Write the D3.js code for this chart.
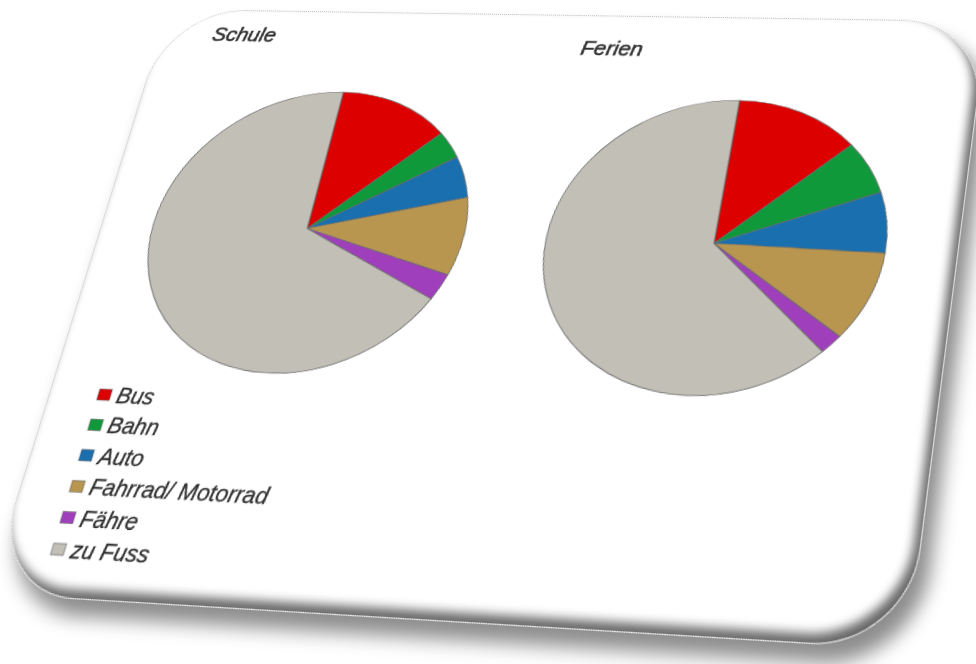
<!DOCTYPE html>
<html>
<head>
<meta charset="utf-8">
<script src="https://cdn.jsdelivr.net/npm/d3@7"></script>
<style>
  html, body { margin: 0; padding: 0; background: #fff; overflow: hidden; }
  #stage { position: relative; width: 976px; height: 664px; overflow: hidden; }
  #card {
    position: absolute; left: 0; top: 0;
    width: 800px; height: 560px;
    background: #fff;
    border-radius: 80px;
    border: 1px dotted #b8b8b8;
    box-sizing: border-box;
    transform-origin: 0 0;
    box-shadow: inset -5px -7px 8px rgba(0,0,0,0.6), 10px 14px 16px rgba(0,0,0,0.45);
  }
  #card svg { position: absolute; left: 0; top: 0; }
  text { font-family: "Liberation Sans", Arial, sans-serif; font-style: italic; fill: #2e2e2e; stroke: #3a3a3a; stroke-width: 0.3; }
  text.title { stroke-width: 0.6; }
</style>
</head>
<body>
<div id="stage"><div id="card"></div></div>
<script>
//data
var categories = ['Bus', 'Bahn', 'Auto', 'Fahrrad/ Motorrad', 'F\u00e4hre', 'zu Fuss'];
var colors = ['#dc0000', '#10993a', '#1a6fae', '#b8964f', '#a03fbc', '#c2bfb7'];
var chartTitles = ['Schule', 'Ferien'];
var schuleValues = [12.4, 3.5, 5.0, 8.8, 2.9, 67.4];
var ferienValues = [12.6, 6.2, 6.7, 9.5, 2.1, 63.0];
//end data

var cardW = 800, cardH = 560;
// where the card corners land in the photo (tilted card)
var cardCorners = [[168, 9], [988, 21], [908, 650], [-13, 594]];

function solveHomography(src, dst) {
    var A = [], B = [];
    for (var i = 0; i < 4; i++) {
        var x = src[i][0], y = src[i][1], u = dst[i][0], v = dst[i][1];
        A.push([x, y, 1, 0, 0, 0, -u * x, -u * y]); B.push(u);
        A.push([0, 0, 0, x, y, 1, -v * x, -v * y]); B.push(v);
    }
    var n = 8, r, k;
    for (var c = 0; c < n; c++) {
        var p = c;
        for (r = c + 1; r < n; r++) if (Math.abs(A[r][c]) > Math.abs(A[p][c])) p = r;
        var t = A[c]; A[c] = A[p]; A[p] = t;
        var tb = B[c]; B[c] = B[p]; B[p] = tb;
        for (r = c + 1; r < n; r++) {
            var f = A[r][c] / A[c][c];
            for (k = c; k < n; k++) A[r][k] -= f * A[c][k];
            B[r] -= f * B[c];
        }
    }
    var h = new Array(n);
    for (r = n - 1; r >= 0; r--) {
        var s = B[r];
        for (k = r + 1; k < n; k++) s -= A[r][k] * h[k];
        h[r] = s / A[r][r];
    }
    return h;
}

var h = solveHomography([[0, 0], [cardW, 0], [cardW, cardH], [0, cardH]], cardCorners);
d3.select('#card').style('transform',
    'matrix3d(' + [h[0], h[3], 0, h[6], h[1], h[4], 0, h[7], 0, 0, 1, 0, h[2], h[5], 0, 1].join(',') + ')');

var svg = d3.select('#card').append('svg')
    .attr('width', cardW)
    .attr('height', cardH);

var pie = d3.pie().sort(null).value(function (d) { return d; });

var pies = [
    { title: chartTitles[0], values: schuleValues, cx: 200, cy: 219, rx: 150, ry: 136, tx: 85, ty: 32 },
    { title: chartTitles[1], values: ferienValues, cx: 581, cy: 221, rx: 154, ry: 138, tx: 451, ty: 40 }
];

pies.forEach(function (p) {
    svg.append('text')
        .attr('class', 'title')
        .attr('x', p.tx)
        .attr('y', p.ty)
        .attr('text-anchor', 'middle')
        .style('font-size', '21px')
        .text(p.title);

    var arc = d3.arc().innerRadius(0).outerRadius(p.rx);
    var g = svg.append('g')
        .attr('transform', 'translate(' + p.cx + ',' + p.cy + ') scale(1,' + (p.ry / p.rx) + ')');
    g.selectAll('path')
        .data(pie(p.values))
        .enter().append('path')
        .attr('d', arc)
        .attr('fill', function (d, i) { return colors[i]; })
        .attr('stroke', '#6a6a6a')
        .attr('stroke-width', 0.8)
        .attr('stroke-linejoin', 'round');
});

//legend
var legend = svg.append('g')
    .attr('transform', 'translate(46,382)');
var rows = legend.selectAll('g')
    .data(categories)
    .enter().append('g')
    .attr('transform', function (d, i) { return 'translate(0,' + (i * 27.4) + ')'; });
rows.append('rect')
    .attr('x', 0)
    .attr('y', -6)
    .attr('width', 12)
    .attr('height', 10)
    .attr('fill', function (d, i) { return colors[i]; })
    .attr('stroke', '#666')
    .attr('stroke-width', 0.6);
rows.append('text')
    .attr('x', 18)
    .attr('y', 6)
    .style('font-size', '20.5px')
    .text(function (d) { return d; });
</script>
</body>
</html>
